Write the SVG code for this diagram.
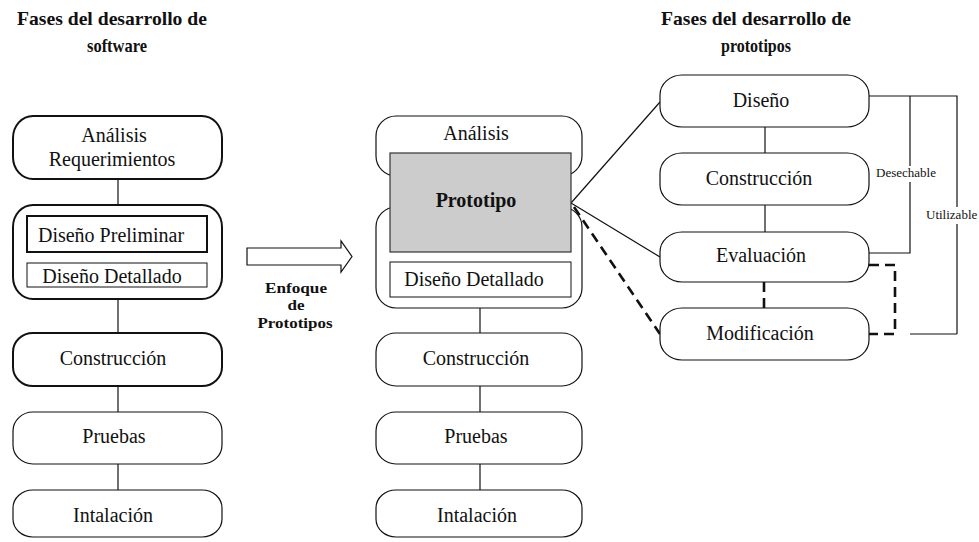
<svg xmlns="http://www.w3.org/2000/svg" width="979" height="542" viewBox="0 0 979 542" font-family="'Liberation Serif', 'Times New Roman', 'DejaVu Serif', serif">
  <style>
    text { font-family: "Liberation Serif", "Times New Roman", "DejaVu Serif", serif; fill: #111; }
    .lbl { font-size: 20px; text-anchor: middle; }
    .ttl { font-size: 19px; font-weight: bold; text-anchor: middle; }
    .cap { font-size: 15px; font-weight: bold; text-anchor: middle; }
    .small { font-size: 13px; }
    .node { fill: #fff; stroke: #111; stroke-width: 1.2; }
    .bold-node { fill: #fff; stroke: #111; stroke-width: 2; }
    .ln { stroke: #111; stroke-width: 1.2; fill: none; }
    .dash { stroke: #111; stroke-width: 2.6; fill: none; stroke-dasharray: 10 6; }
  </style>

  <!-- Titles (condensed bold) -->
  <g id="titles">
    <text class="ttl" x="112" y="25" textLength="190" lengthAdjust="spacingAndGlyphs">Fases del desarrollo de</text>
    <text class="ttl" x="117" y="52" textLength="60" lengthAdjust="spacingAndGlyphs">software</text>
    <text class="ttl" x="756" y="25" textLength="190" lengthAdjust="spacingAndGlyphs">Fases del desarrollo de</text>
    <text class="ttl" x="756" y="52" textLength="70" lengthAdjust="spacingAndGlyphs">prototipos</text>
  </g>

  <!-- Connectors -->
  <g id="connectors">
    <!-- left column -->
    <line class="ln" x1="118" y1="179" x2="118" y2="205"/>
    <line class="ln" x1="118" y1="299" x2="118" y2="333"/>
    <line class="ln" x1="118" y1="386" x2="118" y2="412"/>
    <line class="ln" x1="118" y1="464" x2="118" y2="490"/>
    <!-- middle column -->
    <line class="ln" x1="480" y1="308" x2="480" y2="333"/>
    <line class="ln" x1="480" y1="386" x2="480" y2="412"/>
    <line class="ln" x1="480" y1="464" x2="480" y2="490"/>
    <!-- right column -->
    <line class="ln" x1="765" y1="127" x2="765" y2="153"/>
    <line class="ln" x1="765" y1="205" x2="765" y2="232"/>
    <line class="dash" x1="764" y1="282" x2="764" y2="308"/>
    <!-- prototype fan-out -->
    <line class="ln" x1="571" y1="203" x2="660" y2="102"/>
    <line class="ln" x1="571" y1="203" x2="660" y2="257"/>
    <line class="dash" x1="574" y1="207" x2="660" y2="334"/>
    <!-- Desechable / Utilizable brackets -->
    <polyline class="ln" points="869,96 957,96 957,207"/>
    <line class="ln" x1="957" y1="224" x2="957" y2="334"/>
    <line class="ln" x1="957" y1="334" x2="910" y2="334"/>
    <line class="ln" x1="910" y1="96" x2="910" y2="166"/>
    <polyline class="ln" points="910,182 910,253 869,253"/>
    <!-- modification loop -->
    <polyline class="dash" points="869,265 895,265 895,334 869,334"/>
  </g>

  <!-- Enfoque de Prototipos arrow -->
  <g id="arrow">
    <polygon points="247,248 341,248 341,241 352,256.5 341,272 341,265 247,265" fill="#fff" stroke="#111" stroke-width="1.2"/>
    <text class="cap" x="296" y="293" textLength="62" lengthAdjust="spacingAndGlyphs">Enfoque</text>
    <text class="cap" x="296" y="310" textLength="17" lengthAdjust="spacingAndGlyphs">de</text>
    <text class="cap" x="295" y="328" textLength="75" lengthAdjust="spacingAndGlyphs">Prototipos</text>
  </g>

  <!-- Left column: software development phases -->
  <g id="sw-analisis">
    <rect class="bold-node" x="13" y="116" width="209" height="63" rx="20" ry="22"/>
    <text class="lbl" x="114" y="142">Análisis</text>
    <text class="lbl" x="112" y="166">Requerimientos</text>
  </g>
  <g id="sw-diseno">
    <rect class="bold-node" x="13" y="205" width="209" height="94" rx="20" ry="22"/>
    <rect x="27" y="216" width="180" height="36" fill="#fff" stroke="#111" stroke-width="2"/>
    <text class="lbl" x="111" y="242">Diseño Preliminar</text>
    <rect x="27" y="263" width="180" height="24" fill="#fff" stroke="#111" stroke-width="1"/>
    <text class="lbl" x="112" y="283">Diseño Detallado</text>
  </g>
  <g id="sw-construccion">
    <rect class="bold-node" x="13" y="333" width="209" height="53" rx="20" ry="19"/>
    <text class="lbl" x="113" y="365">Construcción</text>
  </g>
  <g id="sw-pruebas">
    <rect class="node" x="13" y="412" width="209" height="52" rx="20" ry="19"/>
    <text class="lbl" x="114" y="443">Pruebas</text>
  </g>
  <g id="sw-instalacion">
    <rect class="node" x="13" y="490" width="209" height="47" rx="20" ry="18"/>
    <text class="lbl" x="113" y="522">Intalación</text>
  </g>

  <!-- Middle column: prototyping approach -->
  <g id="pr-analisis">
    <rect class="node" x="376" y="116" width="206" height="60" rx="20" ry="20"/>
    <text class="lbl" x="476" y="140">Análisis</text>
  </g>
  <g id="pr-diseno">
    <rect class="node" x="376" y="207" width="206" height="101" rx="20" ry="20"/>
    <rect x="390" y="262" width="181" height="35" fill="#fff" stroke="#111" stroke-width="1"/>
    <text class="lbl" x="474" y="286">Diseño Detallado</text>
  </g>
  <g id="pr-prototipo">
    <rect x="390" y="153" width="181" height="99" fill="#cccccc" stroke="#333" stroke-width="1.2"/>
    <text class="lbl" x="476" y="207" font-weight="bold">Prototipo</text>
  </g>
  <g id="pr-construccion">
    <rect class="node" x="376" y="333" width="206" height="53" rx="20" ry="19"/>
    <text class="lbl" x="476" y="365">Construcción</text>
  </g>
  <g id="pr-pruebas">
    <rect class="node" x="376" y="412" width="206" height="52" rx="20" ry="19"/>
    <text class="lbl" x="476" y="443">Pruebas</text>
  </g>
  <g id="pr-instalacion">
    <rect class="node" x="376" y="490" width="206" height="47" rx="20" ry="18"/>
    <text class="lbl" x="477" y="522">Intalación</text>
  </g>

  <!-- Right column: prototype development phases -->
  <g id="pt-diseno">
    <rect class="node" x="660" y="75" width="209" height="52" rx="22" ry="20"/>
    <text class="lbl" x="761" y="107">Diseño</text>
  </g>
  <g id="pt-construccion">
    <rect class="node" x="660" y="153" width="209" height="52" rx="22" ry="20"/>
    <text class="lbl" x="759" y="185">Construcción</text>
  </g>
  <g id="pt-evaluacion">
    <rect class="node" x="660" y="232" width="209" height="50" rx="22" ry="20"/>
    <text class="lbl" x="761" y="262">Evaluación</text>
  </g>
  <g id="pt-modificacion">
    <rect class="node" x="660" y="308" width="209" height="52" rx="22" ry="20"/>
    <text class="lbl" x="760" y="340">Modificación</text>
  </g>

  <!-- Bracket labels -->
  <g id="labels">
    <text class="small" x="876" y="177">Desechable</text>
    <text class="small" x="926" y="219">Utilizable</text>
  </g>
</svg>
